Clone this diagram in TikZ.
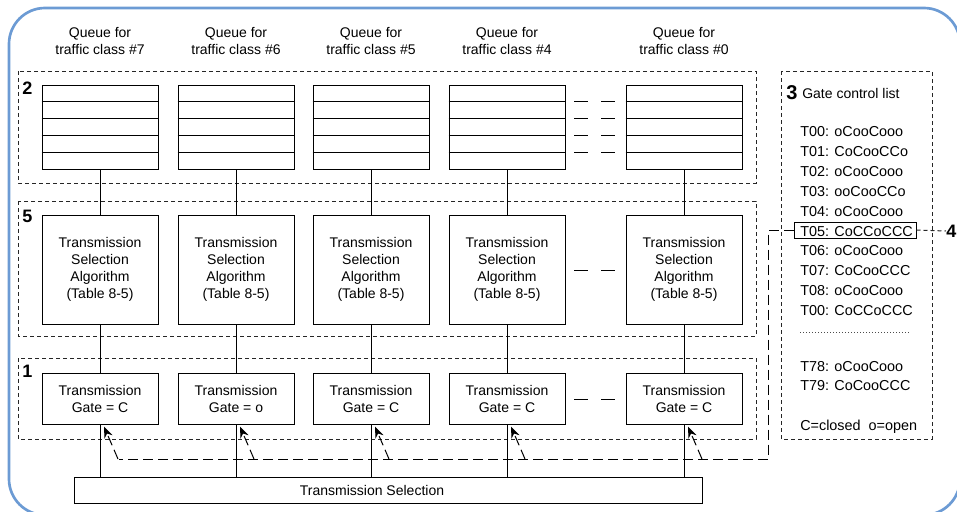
\documentclass[tikz,border=0pt]{standalone}
\usepackage{fontspec}
\setmainfont{Liberation Sans}
\usetikzlibrary{arrows.meta}
\definecolor{frameblue}{RGB}{108,155,212}
\begin{document}
\begin{tikzpicture}[x=0.75pt,y=-0.75pt,
  link/.style={line width=0.75pt},
  box/.style={draw, line width=0.75pt, inner sep=0pt, minimum width=87pt},
  grp/.style={draw=black!85, line width=0.75pt, dash pattern=on 3pt off 2.25pt},
  ctl/.style={draw, line width=0.75pt, dash pattern=on 7.5pt off 3.75pt},
  gapmark/.style={line width=0.75pt, dash pattern=on 10.5pt off 9.75pt},
  txt/.style={font=\fontsize{10.5pt}{12.75pt}\selectfont, align=center, inner sep=0pt},
  lst/.style={font=\fontsize{10.8pt}{13pt}\selectfont, anchor=mid west, inner sep=0pt},
  num/.style={font=\fontsize{13.5pt}{14pt}\selectfont\bfseries, inner sep=0pt, anchor=base west},
  tip/.style={-{Stealth[length=8.5pt,width=6.5pt]}}]
\useasboundingbox (0,0) rectangle (957,511);

% outer frame
\draw[frameblue, line width=2pt, rounded corners=27pt] (9,8) rectangle (960,515);

% dashed groups
\draw[grp] (18,71) rectangle (756,183);
\draw[grp] (18,201) rectangle (756,336);
\draw[grp] (18,358) rectangle (756,439);
\draw[grp] (781,71) rectangle (932,439);
\node[num] (lab2) at (22,94) {2};
\node[num] (lab5) at (22,222) {5};
\node[num] (lab1) at (22,377) {1};
\node[num, font=\fontsize{15pt}{16pt}\selectfont\bfseries] (lab3) at (786,99) {3};

% transmission selection bar
\node[box, minimum width=471pt, minimum height=19.5pt] (ts) at (388,490) {};
\node[txt] (tstext) at (372,490) {Transmission Selection};

% gate control path
\coordinate (turn) at (768,230);
\coordinate (corner) at (768,459);
\coordinate (bus) at (119,459);

% columns
\foreach \i/\c/\t/\g in {1/100/7/C, 2/236/6/o, 3/371/5/C, 4/507/4/C, 5/684/0/C} {
  \node[txt] (title\i) at (\c,40.5) {Queue for\\traffic class \#\t};
  \node[box, minimum height=63pt] (q\i) at (\c,127) {};
  \foreach \y in {101.8,118.6,135.4,152.2}
    \draw[link] (q\i.west |- 0,\y) -- (q\i.east |- 0,\y);
  \node[box, txt, minimum height=81.75pt] (a\i) at (\c,269.5)
    {Transmission\\Selection\\Algorithm\\(Table 8-5)};
  \node[box, txt, minimum height=38.25pt] (g\i) at (\c,398.5)
    {Transmission\\Gate = \g};
  \draw[link] (q\i) -- (a\i);
  \draw[link] (a\i) -- (g\i);
  \draw[link] (g\i) -- (g\i |- ts.north);
  \draw[ctl, tip] ([xshift=13.5pt]g\i.south |- bus) -- ([xshift=3pt,yshift=-1.5pt]g\i.south);
}

% omitted columns
\foreach \y in {101.8,118.6,135.4,152.2}
  \draw[gapmark] (574,\y) -- (615,\y);
\draw[gapmark] (574,270) -- (615,270);
\draw[gapmark] (574,399) -- (615,399);

% gate control list
\node[lst, anchor=base west, font=\fontsize{10.5pt}{12pt}\selectfont] (gcl) at (802,98) {Gate control list};
\foreach \k/\e in {0/T00: oCooCooo, 1/T01: CoCooCCo, 2/T02: oCooCooo, 3/T03: ooCooCCo,
                   4/T04: oCooCooo, 5/T05: CoCCoCCC, 6/T06: oCooCooo, 7/T07: CoCooCCC,
                   8/T08: oCooCooo, 9/T00: CoCCoCCC}
  \node[lst] (e\k) at (800,133+19.9*\k) {\e};
\draw[line width=0.75pt, black!70, dash pattern=on 0.75pt off 1.5pt] (800,332) -- (910,332);
\node[lst] (e78) at (800,368) {T78: oCooCooo};
\node[lst] (e79) at (800,387) {T79: CoCooCCC};
\node[lst] (legend) at (800,427) {C=closed\ \ o=open};

% current entry and its gate control line
\node[draw, line width=0.75pt, inner sep=0pt, minimum width=91.5pt, minimum height=12pt] (t05box) at (855,230) {};
\node[num, anchor=west] (lab4) at (946,231) {4};
\draw[grp] (t05box.east) -- (lab4.west);
\draw[ctl] (t05box.west) -- (turn) -- (corner) -- (bus);
\end{tikzpicture}
\end{document}
